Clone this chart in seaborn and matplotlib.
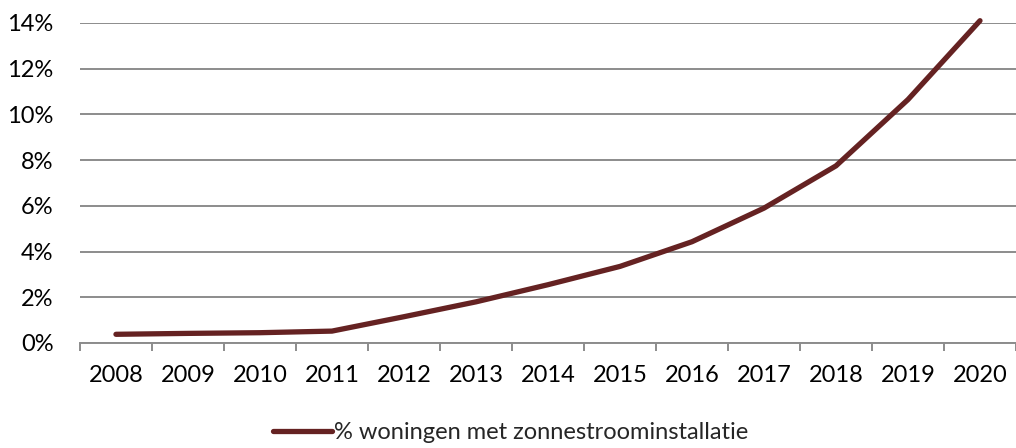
import matplotlib
matplotlib.use("Agg")
import matplotlib.pyplot as plt
import matplotlib.ticker as mticker
import numpy as np
import pandas as pd
import seaborn as sns

# data
years = ["2008", "2009", "2010", "2011", "2012", "2013", "2014",
         "2015", "2016", "2017", "2018", "2019", "2020"]
share = [0.0038, 0.0042, 0.0045, 0.0052, 0.0115, 0.0180, 0.0255,
         0.0335, 0.0443, 0.0590, 0.0775, 0.1065, 0.1410]
series_name = "% woningen met zonnestroominstallatie"

LINE = "#652222"
GRID = "#8c8c8c"
FS = 17

sns.set_theme(style="white")
plt.rcParams["font.family"] = ["Lato", "DejaVu Sans"]

df = pd.DataFrame({"pos": np.arange(len(years)), "share": share,
                   "serie": series_name})

fig = plt.figure(figsize=(10.16, 4.48), dpi=100)
ax = fig.add_axes([0.0787, 0.2344, 0.9213, 0.7143])

sns.lineplot(data=df, x="pos", y="share", hue="serie", palette=[LINE],
             linewidth=3.8, ax=ax, solid_capstyle="round",
             solid_joinstyle="round", clip_on=False)

ax.set_xlim(-0.5, len(years) - 0.5)
ax.set_ylim(0, 0.14)
ax.yaxis.set_major_locator(mticker.MultipleLocator(0.02))
ax.yaxis.set_major_formatter(mticker.PercentFormatter(1.0, decimals=0))
ax.grid(axis="y", color=GRID, linewidth=1.4)
ax.set_axisbelow(True)

# tick marks sit between categories, labels sit on them
ax.set_xticks(np.arange(len(years) + 1) - 0.5)
ax.set_xticklabels([])
ax.set_xticks(np.arange(len(years)), minor=True)
ax.set_xticklabels(years, minor=True)
ax.tick_params(axis="x", which="major", direction="out", length=6,
               width=1.4, color=GRID, bottom=True)
ax.tick_params(axis="x", which="minor", length=0, pad=16, labelsize=FS,
               labelcolor="black")
ax.tick_params(axis="y", length=0, pad=19, labelsize=FS, labelcolor="black")

for s in ["top", "right", "left"]:
    ax.spines[s].set_visible(False)
ax.spines["bottom"].set_color(GRID)
ax.spines["bottom"].set_linewidth(1.4)

ax.set_xlabel("")
ax.set_ylabel("")

leg = ax.legend(loc="center", bbox_to_anchor=(0.46, -0.28), frameon=False,
                fontsize=FS, handlelength=2.5, handletextpad=0.1)
for line in leg.get_lines():
    line.set_linewidth(3.8)

fig.savefig("out.png", dpi=100)
